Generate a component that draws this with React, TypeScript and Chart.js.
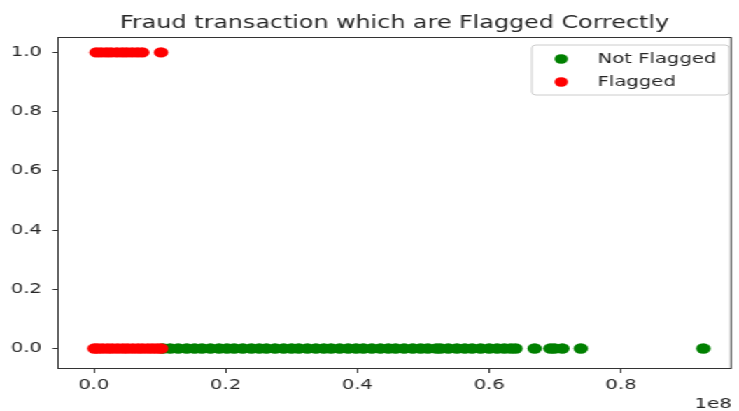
import React, { useEffect, useRef } from "react";
import { Chart, registerables } from "chart.js";

Chart.register(...registerables);

// ---- data (transaction amounts in millions) ----
const notFlaggedAmountsM = [
  10.5, 11.6, 12.8, 14.1, 15.3, 16.4, 17.7, 19.0, 20.2, 21.3, 22.6, 23.9, 25.1,
  26.2, 27.5, 28.8, 30.0, 31.1, 32.4, 33.7, 34.9, 36.0, 37.3, 38.6, 39.8, 40.9,
  42.2, 43.5, 44.7, 45.8, 47.1, 48.4, 49.6, 50.7, 52.0, 52.6, 53.8, 55.1, 56.3,
  57.4, 58.7, 60.0, 61.2, 62.3, 63.3, 64.0, 66.9, 69.3, 69.9, 71.1, 73.9, 92.5,
];
const flaggedAtZeroAmountsM = [
  0.1, 0.6, 1.3, 2.1, 2.8, 3.6, 4.4, 5.1, 5.9, 6.7, 7.4, 8.2, 8.9, 9.6, 10.2,
];
const flaggedAtOneAmountsM = [0.4, 1.1, 1.9, 2.6, 3.5, 4.3, 5.0, 5.8, 6.6, 7.35, 10.2];

const xTickValues = [0, 2e7, 4e7, 6e7, 8e7];
const yTickValues = [0, 0.2, 0.4, 0.6, 0.8, 1.0];
const titleText = "Fraud transaction which are Flagged Correctly";
const seriesLabels = ["Not Flagged", "Flagged"];
const offsetText = "1e8";

const FONT = "'DejaVu Sans', sans-serif";
const TEXT = "#262626";

const decorPlugin = {
  id: "decor",
  afterDraw(chart: any) {
    const { ctx, chartArea: a } = chart;
    ctx.save();
    // frame
    ctx.strokeStyle = "#333333";
    ctx.lineWidth = 1;
    ctx.strokeRect(a.left + 0.5, a.top + 0.5, a.right - a.left - 1, a.bottom - a.top);
    // title
    ctx.fillStyle = TEXT;
    ctx.font = `17px ${FONT}`;
    ctx.textAlign = "center";
    ctx.textBaseline = "alphabetic";
    ctx.fillText(titleText, (a.left + a.right) / 2, 28);
    // offset text
    ctx.font = `14px ${FONT}`;
    ctx.textAlign = "right";
    ctx.fillText(offsetText, a.right, 408);
    // legend
    const bx = 380, by = 45, bw = 141, bh = 50, r = 3;
    ctx.beginPath();
    ctx.moveTo(bx + r, by);
    ctx.lineTo(bx + bw - r, by);
    ctx.quadraticCurveTo(bx + bw, by, bx + bw, by + r);
    ctx.lineTo(bx + bw, by + bh - r);
    ctx.quadraticCurveTo(bx + bw, by + bh, bx + bw - r, by + bh);
    ctx.lineTo(bx + r, by + bh);
    ctx.quadraticCurveTo(bx, by + bh, bx, by + bh - r);
    ctx.lineTo(bx, by + r);
    ctx.quadraticCurveTo(bx, by, bx + r, by);
    ctx.closePath();
    ctx.fillStyle = "rgba(255,255,255,0.8)";
    ctx.fill();
    ctx.strokeStyle = "#cccccc";
    ctx.lineWidth = 1;
    ctx.stroke();
    const rows = [59, 82];
    chart.data.datasets.forEach((ds: any, i: number) => {
      ctx.beginPath();
      ctx.fillStyle = ds.backgroundColor;
      ctx.arc(401, rows[i], 4.8, 0, Math.PI * 2);
      ctx.fill();
      ctx.fillStyle = TEXT;
      ctx.font = `14px ${FONT}`;
      ctx.textAlign = "left";
      ctx.textBaseline = "middle";
      ctx.fillText(ds.label, 427, rows[i]);
    });
    ctx.restore();
  },
};

export default function App() {
  const ref = useRef<HTMLCanvasElement | null>(null);
  useEffect(() => {
    if (!ref.current) return;
    const toPts = (arr: number[], y: number) => arr.map((v) => ({ x: v * 1e6, y }));
    const chart = new Chart(ref.current, {
      type: "scatter",
      data: {
        datasets: [
          {
            label: seriesLabels[0],
            data: toPts(notFlaggedAmountsM, 0),
            backgroundColor: "#008000",
            borderWidth: 0,
            pointRadius: 5.2,
            order: 1,
          },
          {
            label: seriesLabels[1],
            data: [...toPts(flaggedAtZeroAmountsM, 0), ...toPts(flaggedAtOneAmountsM, 1)],
            backgroundColor: "#ff0000",
            borderWidth: 0,
            pointRadius: 5.2,
            order: 0,
          },
        ],
      },
      options: {
        animation: false,
        responsive: false,
        devicePixelRatio: 1,
        layout: { padding: { top: 37, right: 1, left: 0, bottom: 0 } },
        plugins: {
          legend: { display: false },
          title: { display: false },
          tooltip: { enabled: false },
        },
        scales: {
          x: {
            type: "linear",
            min: -5.53e6,
            max: 96.8e6,
            border: { display: false },
            grid: {
              display: true,
              drawOnChartArea: false,
              drawTicks: true,
              tickLength: 5,
              color: "#333333",
            },
            ticks: {
              font: { family: FONT, size: 14 },
              color: TEXT,
              padding: 4,
              maxRotation: 0,
              callback: (v: any) => (Number(v) / 1e8).toFixed(1),
            },
            afterBuildTicks: (scale: any) => {
              scale.ticks = xTickValues.map((value) => ({ value }));
            },
            afterFit: (scale: any) => {
              scale.height = 43;
            },
          },
          y: {
            type: "linear",
            min: -0.066,
            max: 1.052,
            border: { display: false },
            grid: {
              display: true,
              drawOnChartArea: false,
              drawTicks: true,
              tickLength: 3.5,
              color: "#333333",
            },
            ticks: {
              font: { family: FONT, size: 14 },
              color: TEXT,
              padding: 7.5,
              callback: (v: any) => Number(v).toFixed(1),
            },
            afterBuildTicks: (scale: any) => {
              scale.ticks = yTickValues.map((value) => ({ value }));
            },
            afterFit: (scale: any) => {
              scale.width = 41;
            },
          },
        },
      },
      plugins: [decorPlugin],
    });
    return () => chart.destroy();
  }, []);

  return (
    <div
      style={{
        position: "fixed",
        left: 0,
        top: 0,
        width: 528,
        height: 411,
        transform: "scaleX(1.3996)",
        transformOrigin: "0 0",
        background: "#ffffff",
      }}
    >
      <canvas ref={ref} width={528} height={411} style={{ display: "block" }} />
    </div>
  );
}
